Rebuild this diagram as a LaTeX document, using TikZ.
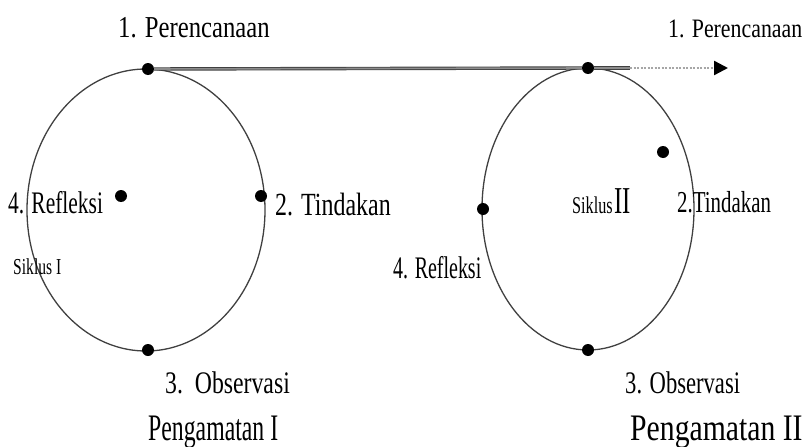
\documentclass[tikz,border=0pt]{standalone}
\usepackage{fontspec}
\usepackage{graphicx}
\setmainfont{Liberation Serif}
\usetikzlibrary{arrows.meta}
% stretched lettering: \tallt{x factor}{y factor}{text}
\newcommand\tallt[3]{\scalebox{#1}[#2]{#3}}
\tikzset{
  cyc/.style={draw=black!75, line width=1.3pt},
  pt/.style={circle, fill=black, inner sep=0pt, minimum width=10pt, minimum height=12pt},
  lbl/.style={font=\fontsize{19}{21}\selectfont, inner sep=0pt, anchor=base west},
  small/.style={font=\fontsize{12}{14}\selectfont, inner sep=0pt, anchor=base west},
  big/.style={font=\fontsize{22}{24}\selectfont, inner sep=0pt, anchor=base west},
  link/.style={draw=black!75, line width=0.9pt, double=black!45, double distance=1.6pt},
}
\begin{document}
\begin{tikzpicture}[x=1pt,y=-1pt]
\useasboundingbox (0,0) rectangle (804,447);
% cycle I and cycle II
\draw[cyc] (146,210) ellipse [x radius=119, y radius=141];
\draw[cyc] (588,209) ellipse [x radius=106, y radius=141];
% stage points
\node[pt] (p1) at (148,69) {};
\node[pt] (p2) at (261,196) {};
\node[pt] (p3) at (148,350) {};
\node[pt] (p4) at (121,196) {};
\node[pt] (q1) at (588,68) {};
\node[pt] (q2) at (663,152) {};
\node[pt] (q3) at (588,350) {};
\node[pt] (q4) at (483,209) {};
\coordinate (fade) at (630,68);
\coordinate (tip) at (728,68);
% link between the cycles
\draw[link] (p1) -- (q1);
\draw[link] (q1) -- (fade);
\draw[black!35, line width=2.4pt, dash pattern=on 2pt off 1.5pt, -{Triangle[length=14pt,width=14pt,color=black,fill=black]}] (fade) -- (tip);
% labels, cycle I
\node[lbl] (l1) at (118,37) {\tallt{1.3}{1.6}{1. Perencanaan}};
\node[lbl] (l2) at (275,215) {\tallt{1.26}{1.7}{2. Tindakan}};
\node[lbl] (l3) at (165,393) {\tallt{1.25}{1.65}{3.\ \ Observasi}};
\node[lbl] (l4) at (8,213) {\tallt{1.13}{1.65}{4. Refleksi}};
\node[small] (s1) at (13,274) {\tallt{1.3}{1.9}{Siklus I}};
\node[big] (g1) at (148,440) {\tallt{1.08}{1.7}{Pengamatan I}};
% labels, cycle II
\node[lbl] (m1) at (668,37) {\tallt{1.15}{1.4}{1. Perencanaan}};
\node[lbl] (m2) at (677,212) {\tallt{1.1}{1.6}{2.Tindakan}};
\node[lbl] (m3) at (625,393) {\tallt{1.19}{1.65}{3. Observasi}};
\node[lbl] (m4) at (393,278) {\tallt{1.05}{1.65}{4. Refleksi}};
\node[small] (s2) at (572,213) {\tallt{1.35}{2.0}{Siklus}\,{\fontsize{19}{21}\selectfont\tallt{1.3}{2.0}{II}}};
\node[big] (g2) at (630,440) {\tallt{1.35}{1.7}{Pengamatan II}};
\end{tikzpicture}
\end{document}
